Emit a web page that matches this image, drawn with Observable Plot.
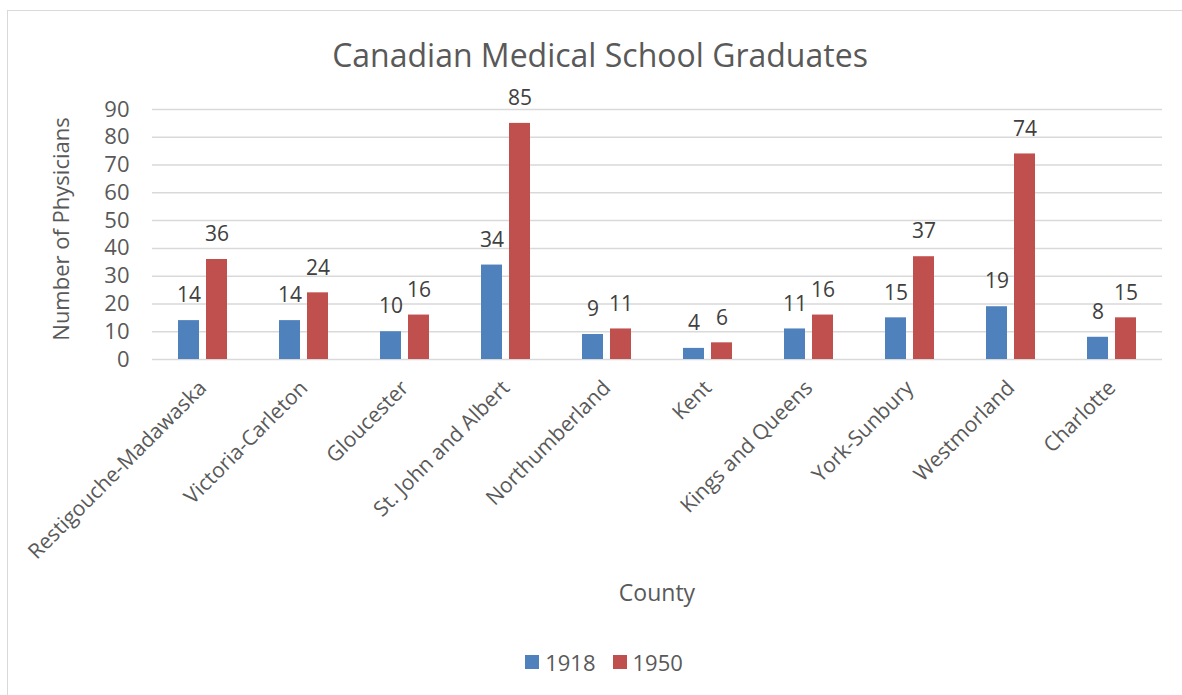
<!DOCTYPE html>
<html>
<head>
<meta charset="utf-8">
<script src="https://cdn.jsdelivr.net/npm/d3@7"></script>
<script src="https://cdn.jsdelivr.net/npm/@observablehq/plot@0.6"></script>
<style>
  html, body { margin: 0; padding: 0; background: #fff; overflow: hidden; }
  body { width: 1182px; height: 695px; position: relative; font-family: "Open Sans", sans-serif; }
  #frame { position: absolute; left: 7px; top: 10px; width: 1200px; height: 720px; border: 1.5px solid #d9d9d9; box-sizing: border-box; }
  #title { position: absolute; left: 0; width: 1200px; top: 33px; line-height: 44px; text-align: center; font-size: 32px; color: #595959; }
  #chart { position: absolute; left: 0; top: 80px; }
  #ylab { position: absolute; left: 60px; top: 229px; transform: translate(-50%, -50%) rotate(-90deg); font-size: 22px; color: #595959; white-space: nowrap; }
  #xlab { position: absolute; left: 150px; width: 1014px; top: 577px; line-height: 30px; text-align: center; font-size: 23px; color: #595959; }
  #legend { position: absolute; left: 0; width: 1208px; top: 647px; line-height: 30px; display: flex; justify-content: center; gap: 17px; font-size: 22px; color: #595959; }
  #legend span.item { display: flex; align-items: center; gap: 6px; }
  #legend span.sw { width: 14px; height: 14px; display: inline-block; }
</style>
</head>
<body>
<div id="frame"></div>
<div id="title">Canadian Medical School Graduates</div>
<div id="ylab">Number of Physicians</div>
<div id="chart"></div>
<div id="xlab">County</div>
<div id="legend"></div>
<script>
const counties = ["Restigouche-Madawaska", "Victoria-Carleton", "Gloucester", "St. John and Albert", "Northumberland", "Kent", "Kings and Queens", "York-Sunbury", "Westmorland", "Charlotte"];
const years = ["1918", "1950"];
const values1918 = [14, 14, 10, 34, 9, 4, 11, 15, 19, 8];
const values1950 = [36, 24, 16, 85, 11, 6, 16, 37, 74, 15];
const yTicks = [0, 10, 20, 30, 40, 50, 60, 70, 80, 90];
const colors = ["#4F81BD", "#C0504D"];

const data = [];
counties.forEach((c, i) => {
  data.push({county: c, year: years[0], value: values1918[i]});
  data.push({county: c, year: years[1], value: values1950[i]});
});

const chart = Plot.plot({
  width: 1182,
  height: 540,
  marginLeft: 150,
  marginRight: 18,
  marginTop: 29,
  marginBottom: 261,
  style: {fontFamily: "Open Sans, sans-serif", color: "#595959", background: "transparent"},
  fx: {domain: counties, padding: 0, label: null},
  x: {domain: years, paddingInner: 0.24, paddingOuter: 0.87, axis: null},
  y: {domain: [0, 90], ticks: yTicks, label: null},
  color: {domain: years, range: colors},
  marks: [
    Plot.gridY(yTicks, {stroke: "#d9d9d9", strokeOpacity: 1, strokeWidth: 1.5}),
    Plot.axisY(yTicks, {tickSize: 0, tickPadding: 0, dx: -23, fontSize: 22, label: null, fill: "#595959"}),
    Plot.axisFx({anchor: "bottom", tickRotate: -45, tickSize: 0, tickPadding: 25, fontSize: 21, label: null, fill: "#595959", lineWidth: 30}),
    Plot.barY(data, {fx: "county", x: "year", y: "value", fill: "year"}),
    Plot.text(data, {fx: "county", x: "year", y: "value", text: "value", dy: -25, fontSize: 21, fill: "#404040"})
  ]
});
document.getElementById("chart").appendChild(chart);

const legend = document.getElementById("legend");
years.forEach((y, i) => {
  const item = document.createElement("span");
  item.className = "item";
  const sw = document.createElement("span");
  sw.className = "sw";
  sw.style.background = colors[i];
  item.appendChild(sw);
  item.appendChild(document.createTextNode(y));
  legend.appendChild(item);
});
</script>
</body>
</html>
